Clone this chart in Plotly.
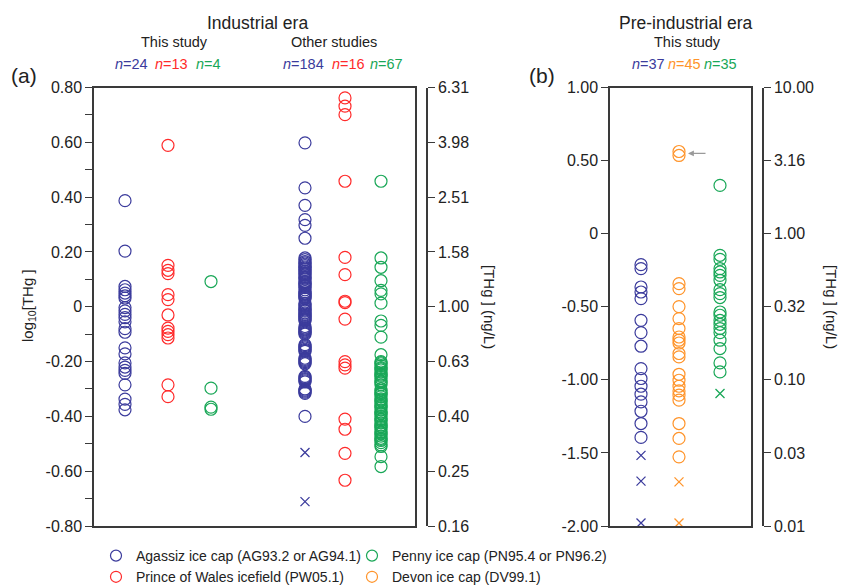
import plotly.graph_objects as go

W, H = 843, 586

BLUE = "#3b3b9c"
RED = "#ff2a2a"
GREEN = "#19a757"
ORANGE = "#ff942a"
AXIS = "#3a3a3a"
TEXT = "#222222"
FONT = "Liberation Sans, Arial, sans-serif"

# ---------------- data: log10[THg] ----------------
# (a) Industrial era, this study
ind_this_agassiz = [0.387, 0.203, 0.074, 0.062, 0.050, 0.040, 0.032, -0.003, -0.015, -0.028,
                    -0.040, -0.055, -0.080, -0.093, -0.150, -0.172, -0.205, -0.220, -0.232,
                    -0.243, -0.285, -0.337, -0.356, -0.376]
ind_this_pw = [0.589, 0.151, 0.133, 0.121, 0.044, 0.026, -0.030, -0.078, -0.090, -0.102,
               -0.114, -0.285, -0.328]
ind_this_penny = [0.092, -0.297, -0.366, -0.374]

# (a) Industrial era, other studies
ind_other_agassiz = [0.598, 0.434, 0.370, 0.318, 0.297, 0.250,
                     0.178, 0.172, 0.165, 0.160, 0.155, 0.150, 0.145, 0.141, 0.136, 0.130,
                     0.125, 0.121, 0.116, 0.110, 0.105, 0.101,
                     0.092, 0.088, 0.084, 0.079, 0.074, 0.070, 0.062, 0.055, 0.050, 0.046,
                     0.042, 0.038, 0.034, 0.030,
                     0.012, 0.006, 0.001, -0.004, -0.008, -0.012, -0.016, -0.022, -0.027,
                     -0.031, -0.035, -0.039, -0.043, -0.047, -0.051,
                     -0.072, -0.077, -0.081, -0.084, -0.088, -0.092, -0.096, -0.100,
                     -0.138, -0.142, -0.146, -0.150, -0.155, -0.159, -0.163,
                     -0.188, -0.192, -0.196, -0.200, -0.204, -0.208,
                     -0.254, -0.258, -0.262, -0.266, -0.270, -0.274,
                     -0.300, -0.304, -0.308, -0.312, -0.316,
                     -0.400]
ind_other_agassiz_bdl = [-0.532, -0.711]
ind_other_pw = [0.762, 0.732, 0.701, 0.458, 0.180, 0.117, 0.020, 0.015, -0.045, -0.200,
                -0.212, -0.224, -0.410, -0.447, -0.535, -0.633]
ind_other_penny = [0.458, 0.178, 0.144, 0.095, 0.060, 0.047, 0.013, -0.052, -0.068, -0.111,
                   -0.175,
                   -0.200, -0.204, -0.208, -0.215, -0.222, -0.226, -0.230, -0.238, -0.246,
                   -0.250, -0.254, -0.262, -0.270, -0.274, -0.278, -0.285,
                   -0.300, -0.306, -0.313, -0.317, -0.320, -0.328, -0.336, -0.340, -0.344,
                   -0.352, -0.360, -0.364, -0.368, -0.376, -0.384, -0.388, -0.392, -0.400,
                   -0.408, -0.412, -0.416, -0.424, -0.432, -0.436, -0.440, -0.448, -0.456,
                   -0.460, -0.464, -0.472, -0.480, -0.484, -0.488, -0.496, -0.504, -0.510,
                   -0.547, -0.583]

# (b) Pre-industrial era, this study
pre_agassiz = [-0.212, -0.239, -0.365, -0.399, -0.444, -0.593, -0.677, -0.770, -0.923,
               -0.991, -1.044, -1.098, -1.151, -1.215, -1.299, -1.394]
pre_agassiz_bdl = [-1.517, -1.693, -1.98]
pre_devon = [0.562, 0.535, -0.342, -0.376, -0.499, -0.581, -0.649, -0.707, -0.729, -0.748,
             -0.820, -0.843, -0.962, -1.003, -1.044, -1.076, -1.105, -1.139, -1.299,
             -1.401, -1.527]
pre_devon_bdl = [-1.698, -1.98]
pre_penny = [0.330, -0.148, -0.176, -0.239, -0.262, -0.285, -0.319, -0.383, -0.410,
             -0.437, -0.536, -0.558, -0.593, -0.620, -0.649, -0.677, -0.729, -0.786,
             -0.884, -0.946]
pre_penny_bdl = [-1.094]

# axis ticks
a_ticks = [0.8, 0.6, 0.4, 0.2, 0.0, -0.2, -0.4, -0.6, -0.8]
a_left_labels = ["0.80", "0.60", "0.40", "0.20", "0", "-0.20", "-0.40", "-0.60", "-0.80"]
a_right_labels = ["6.31", "3.98", "2.51", "1.58", "1.00", "0.63", "0.40", "0.25", "0.16"]
a_minor = [0.7, 0.5, 0.3, 0.1, -0.1, -0.3, -0.5, -0.7]
b_ticks = [1.0, 0.5, 0.0, -0.5, -1.0, -1.5, -2.0]
b_left_labels = ["1.00", "0.50", "0", "-0.50", "-1.00", "-1.50", "-2.00"]
b_right_labels = ["10.00", "3.16", "1.00", "0.32", "0.10", "0.03", "0.01"]

# ---------------- layout constants (pixels) ----------------
def px(x):
    return x / W

def py(y):
    return 1 - y / H

A_LEFT, A_RIGHT = 94, 415
B_LEFT, B_RIGHT = 610, 751
TOP, BOTTOM = 87.5, 526
A_AXIS2 = 427
B_AXIS2 = 763
# column centres (pixels from the panel's left frame)
COL_A = [31, 74, 117, 211, 251, 287]
COL_B = [31, 69, 110]

fig = go.Figure()

def circles(vals, xpos, color, xa, ya):
    fig.add_trace(go.Scatter(
        x=[xpos] * len(vals), y=vals, mode="markers", xaxis=xa, yaxis=ya,
        marker=dict(symbol="circle-open", size=12, color=color, line=dict(width=1.2, color=color)),
        showlegend=False, hoverinfo="y", cliponaxis=False))

def crosses(vals, xpos, color, xa, ya):
    fig.add_trace(go.Scatter(
        x=[xpos] * len(vals), y=vals, mode="markers", xaxis=xa, yaxis=ya,
        marker=dict(symbol="x-thin-open", size=9, color=color, line=dict(width=1.3, color=color)),
        showlegend=False, hoverinfo="y", cliponaxis=False))

circles(ind_this_agassiz, COL_A[0], BLUE, "x", "y")
circles(ind_this_pw, COL_A[1], RED, "x", "y")
circles(ind_this_penny, COL_A[2], GREEN, "x", "y")
circles(ind_other_agassiz, COL_A[3], BLUE, "x", "y")
crosses(ind_other_agassiz_bdl, COL_A[3], BLUE, "x", "y")
circles(ind_other_pw, COL_A[4], RED, "x", "y")
circles(ind_other_penny, COL_A[5], GREEN, "x", "y")

circles(pre_agassiz, COL_B[0], BLUE, "x2", "y2")
crosses(pre_agassiz_bdl, COL_B[0], BLUE, "x2", "y2")
circles(pre_devon, COL_B[1], ORANGE, "x2", "y2")
crosses(pre_devon_bdl, COL_B[1], ORANGE, "x2", "y2")
circles(pre_penny, COL_B[2], GREEN, "x2", "y2")
crosses(pre_penny_bdl, COL_B[2], GREEN, "x2", "y2")

# dummy traces so the secondary (ng/L) axes are drawn
fig.add_trace(go.Scatter(x=[None], y=[None], xaxis="x", yaxis="y3", showlegend=False, hoverinfo="skip"))
fig.add_trace(go.Scatter(x=[None], y=[None], xaxis="x2", yaxis="y4", showlegend=False, hoverinfo="skip"))

# legend entries
legend_items = [
    ("Agassiz ice cap (AG93.2 or AG94.1)", BLUE, "legend"),
    ("Prince of Wales icefield (PW05.1)", RED, "legend"),
    ("Penny ice cap (PN95.4 or PN96.2)", GREEN, "legend2"),
    ("Devon ice cap (DV99.1)", ORANGE, "legend2"),
]
for name, color, lg in legend_items:
    fig.add_trace(go.Scatter(
        x=[None], y=[None], mode="markers", name=name, legend=lg,
        marker=dict(symbol="circle-open", size=11, color=color, line=dict(width=1.2, color=color))))

frame = dict(showline=True, linecolor=AXIS, linewidth=1.5, mirror=True,
             showgrid=False, zeroline=False)
xcommon = dict(showticklabels=False, ticks="", fixedrange=True, **frame)
ycommon = dict(ticks="outside", ticklen=7, tickwidth=1.2, tickcolor=AXIS,
               tickfont=dict(size=16, color=TEXT), tickmode="array", **frame)
y2common = dict(ticks="outside", ticklen=7, tickwidth=1.2, tickcolor=AXIS,
                tickfont=dict(size=16, color=TEXT), tickmode="array",
                showline=True, linecolor=AXIS, linewidth=1.5, showgrid=False,
                zeroline=False, side="right", anchor="free")

yd = [py(BOTTOM), py(TOP)]
fig.update_layout(
    width=W, height=H, margin=dict(l=0, r=0, t=0, b=0, autoexpand=False),
    paper_bgcolor="white", plot_bgcolor="white",
    font=dict(family=FONT, color=TEXT),
    xaxis=dict(domain=[px(A_LEFT), px(A_RIGHT)], range=[0, A_RIGHT - A_LEFT], anchor="y", **xcommon),
    yaxis=dict(domain=yd, range=[-0.8, 0.8], anchor="x", tickvals=a_ticks, ticktext=a_left_labels,
               minor=dict(tickvals=a_minor, ticks="outside", ticklen=7, tickwidth=1.2, tickcolor=AXIS),
               **ycommon),
    yaxis3=dict(overlaying="y", position=px(A_AXIS2), range=[-0.8, 0.8],
                tickvals=a_ticks, ticktext=a_right_labels, **y2common),
    xaxis2=dict(domain=[px(B_LEFT), px(B_RIGHT)], range=[0, B_RIGHT - B_LEFT], anchor="y2", **xcommon),
    yaxis2=dict(domain=yd, range=[-2.0, 1.0], anchor="x2", tickvals=b_ticks, ticktext=b_left_labels,
                **ycommon),
    yaxis4=dict(overlaying="y2", position=px(B_AXIS2), range=[-2.0, 1.0],
                tickvals=b_ticks, ticktext=b_right_labels, **y2common),
    legend=dict(x=px(96), y=py(540), xanchor="left", yanchor="top", orientation="v",
                font=dict(size=14, color=TEXT), bgcolor="rgba(0,0,0,0)", tracegroupgap=0),
    legend2=dict(x=px(352), y=py(540), xanchor="left", yanchor="top", orientation="v",
                 font=dict(size=14, color=TEXT), bgcolor="rgba(0,0,0,0)", tracegroupgap=0),
    showlegend=True,
)

def label(x, y, text, size, color=TEXT, angle=0):
    fig.add_annotation(x=px(x), y=py(y), xref="paper", yref="paper", text=text, showarrow=False,
                       font=dict(size=size, color=color, family=FONT), textangle=angle,
                       xanchor="center", yanchor="middle")

label(257, 23, "Industrial era", 17.5)
label(174, 42, "This study", 14.5)
label(334, 42, "Other studies", 14.5)
label(131, 64, "<i>n</i>=24", 14.5, BLUE)
label(171, 64, "<i>n</i>=13", 14.5, RED)
label(208, 64, "<i>n</i>=4", 14.5, GREEN)
label(303, 64, "<i>n</i>=184", 14.5, BLUE)
label(348, 64, "<i>n</i>=16", 14.5, RED)
label(386, 64, "<i>n</i>=67", 14.5, GREEN)
label(24, 75, "(a)", 21)

label(686, 23, "Pre-industrial era", 17.5)
label(687, 42, "This study", 14.5)
label(648, 64, "<i>n</i>=37", 14.5, BLUE)
label(684, 64, "<i>n</i>=45", 14.5, ORANGE)
label(720, 64, "<i>n</i>=35", 14.5, GREEN)
label(542, 75, "(b)", 21)

label(28, 305, "log<sub>10</sub>[THg ]", 15, angle=-90)
label(490, 307, "[THg ] (ng/L)", 15, angle=90)
label(832, 307, "[THg ] (ng/L)", 15, angle=90)

# arrow marking the two high Devon samples
fig.add_annotation(x=COL_B[1] + 9, y=0.549, xref="x2", yref="y2",
                   ax=COL_B[1] + 28, ay=0.549, axref="x2", ayref="y2",
                   showarrow=True, arrowhead=2, arrowsize=0.9, arrowwidth=1.3,
                   arrowcolor="#9a9a9a", text="")

fig.write_html("out.html")
